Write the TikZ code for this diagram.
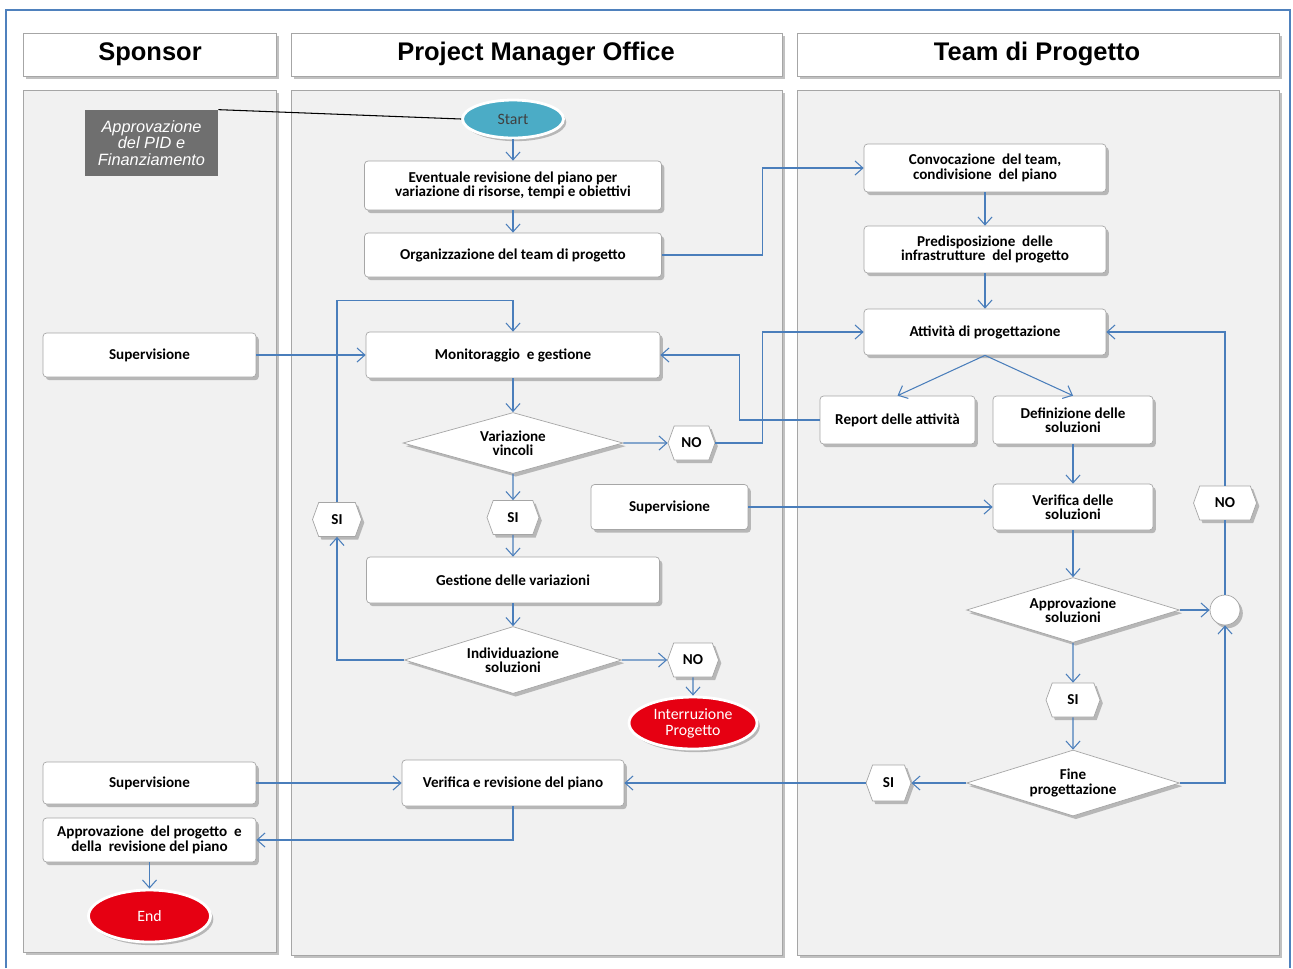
\documentclass[tikz,border=0pt]{standalone}
\usepackage{fontspec}
\setmainfont{Carlito}
\newfontfamily\headfont{Liberation Sans}
\usetikzlibrary{shapes.geometric,shapes.symbols,shadows,arrows.meta}
\definecolor{conncol}{HTML}{4A7EBB}
\definecolor{boxgray}{HTML}{A6A6A6}
\definecolor{lanefill}{HTML}{F1F1F1}
\definecolor{frameblue}{HTML}{4F81BD}
\definecolor{startfill}{HTML}{4BACC6}
\definecolor{redfill}{HTML}{E60012}
\definecolor{pidgray}{HTML}{6F6F6F}
\begin{document}
\begin{tikzpicture}[x=0.02cm,y=-0.02cm,
  shad/.style={drop shadow={shadow xshift=1.6pt,shadow yshift=-1.8pt,opacity=0.35,fill=black!70}},
  lane/.style={draw=boxgray,fill=lanefill,shad},
  head/.style={draw=boxgray,fill=white,shad},
  headtxt/.style={font=\headfont\bfseries\fontsize{14.5}{16}\selectfont},
  box/.style={draw=boxgray,fill=white,rounded corners=2pt,shad,align=center,inner sep=1pt,
    font=\bfseries\fontsize{8.6}{8.2}\selectfont},
  dia/.style={shape=diamond,draw=boxgray,fill=white,shad,align=center,inner sep=0pt,aspect=3.4,
    font=\bfseries\fontsize{8.6}{8.2}\selectfont},
  hexa/.style={shape=signal,signal to=east and west,signal pointer angle=140,draw=boxgray,fill=white,shad,
    inner sep=0pt,minimum height=0.68cm,font=\bfseries\fontsize{8.6}{9}\selectfont},
  term/.style={shape=ellipse,draw=white,line width=1.6pt,shad,align=center,inner sep=0pt,
    font=\fontsize{9}{9}\selectfont},
  conn/.style={draw=conncol,line width=0.6pt,-{Straight Barb[length=4.5pt,width=8pt]}},
  plain/.style={draw=conncol,line width=0.6pt}
]
\useasboundingbox (0,0) rectangle (1293,968);
% outer frame
\draw[frameblue,line width=1.2pt] (6,968) -- (6,10) -- (1290,10) -- (1290,968);
% lanes
\path[head] (23,33) rectangle (276,76);
\path[head] (291,33) rectangle (782,76);
\path[head] (797,33) rectangle (1279,76);
\node[headtxt] (hs) at (150,54) {Sponsor};
\node[headtxt] (hp) at (536,54) {Project Manager Office};
\node[headtxt] (ht) at (1037,54) {Team di Progetto};
\path[lane] (23,90) rectangle (276,952);
\path[lane] (291,90) rectangle (782,955);
\path[lane] (797,90) rectangle (1279,955);

% nodes
\node[fill=pidgray,minimum width=2.66cm,minimum height=1.32cm,inner sep=0pt,align=center,text=white,
  font=\headfont\itshape\fontsize{9.3}{9.4}\selectfont] (pid) at (151.5,143) {Approvazione\\del PID e\\Finanziamento};
\node[term,fill=startfill,minimum width=2.02cm,minimum height=0.76cm,text=black!75] (start) at (513,119) {Start};
\node[box,minimum width=5.94cm,minimum height=0.98cm] (ev) at (513,185.5) {Eventuale revisione del piano per\\variazione di risorse, tempi e obiettivi};
\node[box,minimum width=5.94cm,minimum height=0.88cm] (org) at (513,255) {Organizzazione del team di progetto};
\node[box,minimum width=4.84cm,minimum height=0.96cm] (conv) at (985,168) {Convocazione\ \ del team,\\condivisione\ \ del piano};
\node[box,minimum width=4.84cm,minimum height=0.94cm] (pred) at (985,249.5) {Predisposizione\ \ delle\\infrastrutture\ \ del progetto};
\node[box,minimum width=4.84cm,minimum height=0.92cm] (att) at (985,332) {Attività di progettazione};
\node[box,minimum width=5.88cm,minimum height=0.92cm] (mon) at (513,355) {Monitoraggio\ \ e gestione};
\node[box,minimum width=4.26cm,minimum height=0.88cm] (sup1) at (149.5,355) {Supervisione};
\node[dia,minimum width=4.4cm,minimum height=1.22cm] (var) at (513,443) {Variazione\\vincoli};
\node[hexa,minimum width=0.94cm] (no1) at (691.5,443) {NO};
\node[box,minimum width=3.1cm,minimum height=0.96cm] (rep) at (897.5,420) {Report delle attività};
\node[box,minimum width=3.2cm,minimum height=0.96cm] (def) at (1073,420) {Definizione delle\\soluzioni};
\node[hexa,minimum width=0.98cm] (sil) at (337,519.5) {SI};
\node[hexa,minimum width=1.04cm] (sim) at (513,517.5) {SI};
\node[box,minimum width=3.14cm,minimum height=0.9cm] (sup2) at (669.5,507) {Supervisione};
\node[box,minimum width=3.2cm,minimum height=0.92cm] (ver) at (1073,507) {Verifica delle\\soluzioni};
\node[hexa,minimum width=1.26cm] (nor) at (1225,503) {NO};
\node[box,minimum width=5.86cm,minimum height=0.92cm] (gest) at (513,580) {Gestione delle variazioni};
\node[dia,minimum width=4.26cm,minimum height=1.3cm] (appsol) at (1073,610) {Approvazione\\soluzioni};
\node[circle,draw=boxgray,fill=white,shad,minimum size=0.6cm,inner sep=0pt] (circ) at (1225,610) {};
\node[dia,minimum width=4.34cm,minimum height=1.34cm] (ind) at (513,660) {Individuazione\\soluzioni};
\node[hexa,minimum width=1.02cm] (no2) at (693,660) {NO};
\node[term,fill=redfill,minimum width=2.56cm,minimum height=1.04cm,text=white] (intr) at (693,723) {Interruzione\\Progetto};
\node[hexa,minimum width=1.08cm] (sir) at (1073,700) {SI};
\node[dia,minimum width=4.26cm,minimum height=1.32cm] (fine) at (1073,783) {Fine\\progettazione};
\node[hexa,minimum width=0.9cm,minimum height=0.72cm] (sib) at (888.5,783) {SI};
\node[box,minimum width=4.44cm,minimum height=0.92cm] (verp) at (513,783) {Verifica e revisione del piano};
\node[box,minimum width=4.26cm,minimum height=0.84cm] (sup3) at (149.5,783) {Supervisione};
\node[box,minimum width=4.26cm,minimum height=0.88cm] (appr) at (149.5,840) {Approvazione\ \ del progetto\ \ e\\della\ \ revisione del piano};
\node[term,fill=redfill,minimum width=2.44cm,minimum height=1.04cm,text=white] (end) at (149.5,916) {End};

% connectors
\draw[black,line width=0.6pt] (pid.north east) -- (start.west);
\draw[conn] (start) -- (ev);
\draw[conn] (ev) -- (org);
\draw[conn] (org.east) -- ++(101,0) |- (conv.west);
\draw[conn] (conv) -- (pred);
\draw[conn] (pred) -- (att);
\draw[conn] (att.south) -- (rep.north);
\draw[conn] (att.south) -- (def.north);
\draw[conn] (rep.west) -- ++(-80,0) |- (mon.east);
\draw[conn] (no1.east) -- ++(47,0) |- (att.west);
\draw[conn] (sup1.east) -- (mon.west);
\draw[conn] (mon) -- (var);
\draw[conn] (var) -- (no1);
\draw[conn] (var) -- (sim);
\draw[conn] (sim) -- (gest);
\draw[conn] (gest) -- (ind);
\draw[conn] (ind.west) -| (sil.south);
\draw[conn] (sil.north) -- ++(0,-202) -| (mon.north);
\draw[conn] (ind) -- (no2);
\draw[conn] (no2) -- (intr);
\draw[conn] (def) -- (ver);
\draw[conn] (sup2.east) -- (ver.west);
\draw[conn] (ver) -- (appsol);
\draw[conn] (appsol.east) -- (circ.west);
\draw[plain] (circ.north) -- (nor.south);
\draw[conn] (nor.north) |- (att.east);
\draw[conn] (appsol) -- (sir);
\draw[conn] (sir) -- (fine);
\draw[conn] (fine.east) -| (circ.south);
\draw[conn] (fine.west) -- (sib.east);
\draw[conn] (sib.west) -- (verp.east);
\draw[conn] (sup3.east) -- (verp.west);
\draw[conn] (verp.south) |- (appr.east);
\draw[conn] (appr) -- (end);
\end{tikzpicture}
\end{document}
